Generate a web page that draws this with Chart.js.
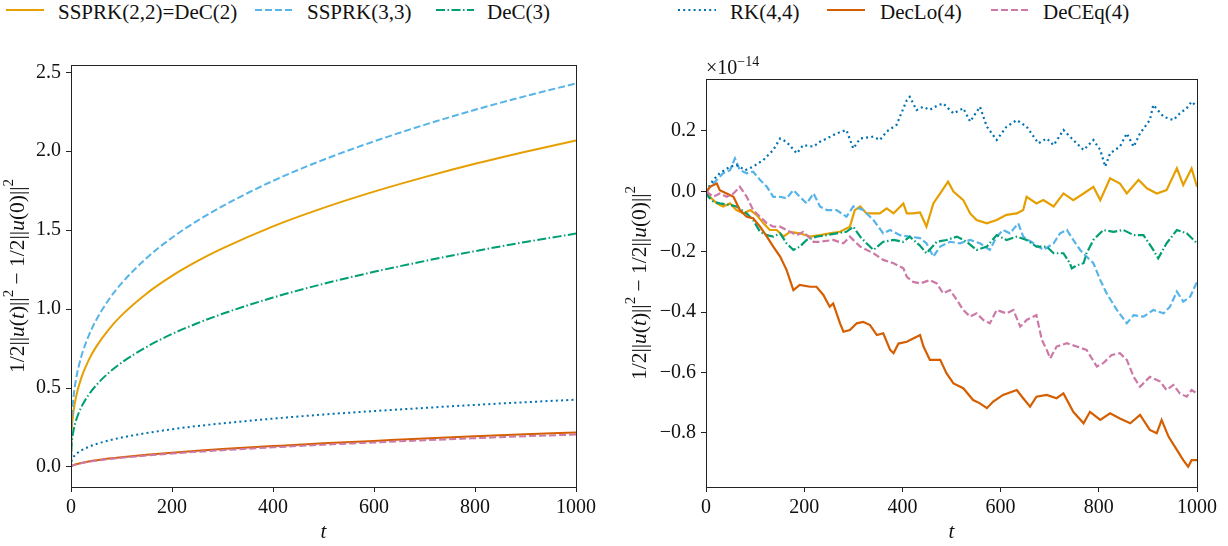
<!DOCTYPE html>
<html lang="en">
<head>
<meta charset="UTF-8">
<title>Energy error of the schemes</title>
<script src="https://cdn.jsdelivr.net/npm/chart.js@4.4.0/dist/chart.umd.min.js"></script>
<style>
  body { margin: 0; width: 1228px; height: 546px; background: #fff; overflow: hidden; position: relative; font-family: 'Liberation Serif', serif; }
  .item { position: absolute; top: 0; height: 24px; }
  .item svg { position: absolute; left: 0; top: 4px; }
  .item span { position: absolute; top: 0; white-space: nowrap; font-size: 21px; line-height: 24px; color: #111; }
  .box { position: absolute; top: 40px; height: 506px; }
</style>
</head>
<body>
<div id="legend"></div>
<div class="box" style="left:0; width:600px;"><canvas id="left" width="600" height="506"></canvas></div>
<div class="box" style="left:620px; width:608px;"><canvas id="right" width="608" height="506"></canvas></div>

<script>
// series names and styles
const names = ['SSPRK(2,2)=DeC(2)', 'SSPRK(3,3)', 'DeC(3)', 'RK(4,4)', 'DecLo(4)', 'DeCEq(4)'];
const colors = ['#E69F00', '#56B4E9', '#009E73', '#0072B2', '#D55E00', '#CC79A7'];
const dashes = [[], [7, 3], [9, 2.5, 1.5, 2.5], [2, 3.2], [], [7, 3]];

// left panel: energy growth
const tLeft = [0, 1, 2, 5, 10, 20, 35, 50, 75, 100, 150, 200, 250, 300, 400, 500, 600, 700, 800, 900, 1000];
const ssprk22 = [0, 0.207, 0.261, 0.354, 0.445, 0.561, 0.677, 0.762, 0.872, 0.960, 1.099, 1.210, 1.303, 1.384, 1.524, 1.641, 1.744, 1.836, 1.920, 1.997, 2.068];
const ssprk33 = [0, 0.266, 0.332, 0.446, 0.556, 0.695, 0.831, 0.931, 1.061, 1.163, 1.324, 1.452, 1.559, 1.652, 1.812, 1.946, 2.062, 2.167, 2.262, 2.349, 2.429];
const dec3 = [0, 0.132, 0.168, 0.231, 0.295, 0.376, 0.457, 0.518, 0.597, 0.660, 0.761, 0.842, 0.910, 0.970, 1.073, 1.160, 1.236, 1.304, 1.367, 1.425, 1.478];
const rk44 = [0, 0.035, 0.045, 0.063, 0.081, 0.104, 0.127, 0.145, 0.168, 0.186, 0.215, 0.239, 0.259, 0.276, 0.306, 0.332, 0.354, 0.374, 0.393, 0.410, 0.426];
const declo4 = [0, 0.005, 0.007, 0.012, 0.017, 0.025, 0.035, 0.042, 0.053, 0.062, 0.077, 0.090, 0.102, 0.113, 0.132, 0.150, 0.165, 0.180, 0.194, 0.207, 0.219];
const deceq4 = [0, 0.005, 0.007, 0.011, 0.016, 0.023, 0.033, 0.040, 0.050, 0.058, 0.072, 0.085, 0.096, 0.106, 0.124, 0.141, 0.155, 0.169, 0.182, 0.195, 0.205];

// right panel: values in units of 1e-14
const tR1 = [0, 8, 22, 35, 49, 62, 76, 90, 103, 117, 130, 144, 158, 171, 191, 212, 232, 252, 273, 293, 303, 314, 327, 341, 354, 368, 382, 402, 409, 422, 436, 449, 463, 477, 493, 504, 524, 538, 551, 572, 592, 612, 633, 646, 653, 673, 687, 708, 728, 748, 769, 789, 803, 823, 843, 857, 881, 898, 918, 938, 959, 972, 989, 1000];
const vR1 = [0, -0.018, -0.04, -0.05, -0.04, -0.062, -0.073, -0.062, -0.078, -0.106, -0.128, -0.128, -0.15, -0.134, -0.139, -0.15, -0.145, -0.139, -0.134, -0.117, -0.062, -0.05, -0.073, -0.073, -0.073, -0.056, -0.073, -0.04, -0.073, -0.073, -0.07, -0.117, -0.04, -0.007, 0.032, -0.001, -0.029, -0.073, -0.095, -0.106, -0.095, -0.078, -0.073, -0.062, -0.018, -0.04, -0.029, -0.05, -0.007, -0.029, -0.007, 0.015, -0.029, 0.043, 0.026, -0.007, 0.038, 0.01, -0.007, 0.004, 0.076, 0.021, 0.076, 0.015];
const tR2 = [0, 15, 35, 49, 59, 69, 83, 96, 110, 124, 137, 151, 164, 178, 191, 205, 219, 232, 246, 266, 286, 300, 320, 341, 361, 375, 395, 415, 436, 449, 463, 477, 497, 517, 538, 558, 578, 592, 605, 619, 636, 646, 667, 687, 708, 721, 735, 748, 762, 775, 789, 803, 816, 837, 857, 871, 891, 911, 932, 945, 959, 972, 986, 1000];
const vR2 = [0, 0.026, 0.06, 0.07, 0.109, 0.07, 0.06, 0.065, 0.038, 0.015, -0.018, -0.018, -0.023, 0.004, -0.018, -0.04, -0.007, -0.05, -0.062, -0.062, -0.084, -0.05, -0.062, -0.095, -0.139, -0.128, -0.145, -0.15, -0.155, -0.172, -0.216, -0.183, -0.167, -0.172, -0.161, -0.172, -0.194, -0.15, -0.128, -0.139, -0.106, -0.15, -0.172, -0.194, -0.172, -0.139, -0.128, -0.161, -0.194, -0.216, -0.238, -0.294, -0.338, -0.393, -0.437, -0.41, -0.415, -0.393, -0.404, -0.382, -0.332, -0.365, -0.349, -0.3];
const tR3 = [0, 5, 15, 28, 49, 62, 83, 96, 110, 124, 137, 151, 164, 178, 191, 205, 225, 246, 266, 286, 300, 314, 327, 341, 361, 382, 402, 415, 436, 449, 470, 490, 511, 531, 551, 572, 592, 612, 633, 653, 673, 694, 708, 728, 741, 745, 755, 769, 775, 789, 809, 830, 850, 871, 891, 911, 921, 938, 959, 979, 1000];
const vR3 = [0, -0.018, -0.034, -0.04, -0.045, -0.05, -0.073, -0.095, -0.134, -0.145, -0.15, -0.139, -0.172, -0.194, -0.183, -0.161, -0.15, -0.145, -0.139, -0.134, -0.117, -0.15, -0.172, -0.194, -0.167, -0.161, -0.167, -0.15, -0.18, -0.205, -0.167, -0.161, -0.15, -0.167, -0.194, -0.183, -0.145, -0.161, -0.15, -0.161, -0.183, -0.183, -0.205, -0.205, -0.238, -0.255, -0.245, -0.238, -0.205, -0.161, -0.128, -0.134, -0.128, -0.145, -0.145, -0.194, -0.222, -0.172, -0.128, -0.139, -0.172];
const tR4 = [0, 15, 28, 49, 62, 80, 96, 117, 137, 151, 164, 185, 198, 219, 232, 246, 266, 286, 300, 314, 341, 354, 368, 388, 409, 415, 429, 442, 456, 470, 483, 504, 524, 538, 558, 572, 592, 612, 633, 653, 677, 694, 708, 728, 748, 769, 789, 803, 813, 823, 843, 857, 871, 884, 904, 911, 932, 952, 965, 979, 989, 1000];
const vR4 = [0, 0.038, 0.06, 0.082, 0.087, 0.07, 0.082, 0.104, 0.137, 0.175, 0.164, 0.126, 0.153, 0.148, 0.164, 0.175, 0.192, 0.203, 0.142, 0.175, 0.181, 0.17, 0.198, 0.22, 0.302, 0.313, 0.269, 0.28, 0.27, 0.283, 0.291, 0.258, 0.275, 0.231, 0.28, 0.214, 0.17, 0.214, 0.236, 0.214, 0.159, 0.175, 0.153, 0.203, 0.17, 0.137, 0.17, 0.137, 0.082, 0.126, 0.148, 0.192, 0.148, 0.192, 0.236, 0.286, 0.247, 0.236, 0.258, 0.275, 0.297, 0.28];
const tR5 = [0, 8, 22, 28, 42, 56, 69, 83, 96, 110, 124, 137, 151, 164, 178, 191, 212, 225, 239, 252, 259, 273, 280, 293, 307, 320, 334, 348, 361, 375, 382, 392, 409, 422, 436, 443, 456, 477, 490, 504, 524, 544, 558, 572, 585, 605, 633, 646, 660, 673, 694, 714, 728, 748, 769, 782, 803, 823, 843, 864, 884, 904, 918, 928, 942, 959, 972, 982, 989, 1000];
const vR5 = [-0.007, 0.015, 0.026, 0.004, -0.007, -0.018, -0.062, -0.084, -0.089, -0.117, -0.15, -0.183, -0.216, -0.26, -0.327, -0.31, -0.316, -0.316, -0.343, -0.382, -0.371, -0.437, -0.465, -0.459, -0.437, -0.432, -0.443, -0.476, -0.47, -0.525, -0.536, -0.504, -0.498, -0.487, -0.476, -0.514, -0.558, -0.558, -0.603, -0.636, -0.652, -0.691, -0.702, -0.718, -0.696, -0.674, -0.658, -0.685, -0.713, -0.68, -0.674, -0.685, -0.669, -0.73, -0.768, -0.73, -0.757, -0.735, -0.752, -0.768, -0.74, -0.79, -0.801, -0.757, -0.812, -0.856, -0.89, -0.912, -0.89, -0.89];
const tR6 = [0, 15, 28, 42, 56, 69, 83, 96, 110, 124, 137, 151, 164, 185, 198, 219, 232, 259, 280, 293, 314, 341, 361, 382, 402, 409, 422, 436, 456, 470, 483, 497, 511, 524, 538, 551, 565, 578, 592, 612, 626, 640, 653, 673, 684, 694, 701, 714, 735, 755, 775, 796, 809, 826, 843, 857, 871, 884, 904, 925, 938, 952, 965, 979, 989, 1000];
const vR6 = [0, -0.018, -0.007, -0.018, -0.007, 0.015, -0.018, -0.062, -0.084, -0.106, -0.117, -0.117, -0.128, -0.145, -0.134, -0.167, -0.167, -0.161, -0.172, -0.15, -0.183, -0.205, -0.227, -0.238, -0.255, -0.283, -0.3, -0.305, -0.294, -0.305, -0.338, -0.327, -0.36, -0.393, -0.415, -0.404, -0.426, -0.437, -0.393, -0.404, -0.393, -0.448, -0.426, -0.41, -0.492, -0.525, -0.553, -0.514, -0.503, -0.514, -0.525, -0.58, -0.569, -0.542, -0.536, -0.558, -0.614, -0.647, -0.614, -0.63, -0.658, -0.641, -0.669, -0.68, -0.658, -0.669];

// ticks
const xTicks = [0, 200, 400, 600, 800, 1000];
const leftYTicks = [0, 0.5, 1, 1.5, 2, 2.5];
const rightYTicks = [-0.8, -0.6, -0.4, -0.2, 0, 0.2];

const FONT = "'Liberation Serif', serif";

// html legend
const legendX = [[6, 58], [255, 307], [436, 487], [678, 730], [827, 880], [991, 1043]];
const legend = document.getElementById('legend');
names.forEach((n, i) => {
  const d = document.createElement('div');
  d.className = 'item';
  d.style.left = legendX[i][0] + 'px';
  const da = dashes[i].length ? ` stroke-dasharray="${dashes[i].join(',')}"` : '';
  d.innerHTML = `<svg width="40" height="12"><line x1="0" y1="6" x2="38" y2="6" stroke="${colors[i]}" stroke-width="2"${da}/></svg>` +
    `<span style="left:${legendX[i][1] - legendX[i][0]}px">${n}</span>`;
  legend.appendChild(d);
});

// text with italic / superscript pieces
function drawPieces(ctx, pieces, x, y, size, align) {
  const w = pieces.map(p => {
    ctx.font = (p[1] === 'i' ? 'italic ' : '') + (p[1] === 's' ? size * 0.7 : size) + 'px ' + FONT;
    return ctx.measureText(p[0]).width;
  });
  const total = w.reduce((a, b) => a + b, 0);
  let cx = align === 'center' ? x - total / 2 : x;
  pieces.forEach((p, k) => {
    ctx.font = (p[1] === 'i' ? 'italic ' : '') + (p[1] === 's' ? size * 0.7 : size) + 'px ' + FONT;
    ctx.fillText(p[0], cx, p[1] === 's' ? y - size * 0.4 : y);
    cx += w[k];
  });
}

const yLabel = [['1/2||', 'n'], ['u', 'i'], ['(', 'n'], ['t', 'i'], [')||', 'n'], ['2', 's'], [' \u2212 1/2||', 'n'], ['u', 'i'], ['(0)||', 'n'], ['2', 's']];

const frame = {
  id: 'frame',
  afterDraw(chart, args, opts) {
    const { ctx, chartArea: a } = chart;
    ctx.save();
    ctx.strokeStyle = '#222';
    ctx.lineWidth = 1;
    ctx.strokeRect(a.left + 0.5, a.top + 0.5, a.right - a.left, a.bottom - a.top);
    ctx.fillStyle = '#111';
    ctx.textBaseline = 'middle';
    // x label
    drawPieces(ctx, [['t', 'i']], (a.left + a.right) / 2, 492, 21, 'center');
    // y label
    ctx.translate(opts.ylx, (a.top + a.bottom) / 2);
    ctx.rotate(-Math.PI / 2);
    drawPieces(ctx, yLabel, 0, 0, 21.5, 'center');
    ctx.restore();
    if (opts.offset) {
      ctx.save();
      ctx.fillStyle = '#111';
      ctx.textBaseline = 'alphabetic';
      drawPieces(ctx, [['\u00d710', 'n'], ['\u221214', 's']], a.left, a.top - 5, 20, 'left');
      ctx.restore();
    }
  }
};

function fmt(v) {
  const s = Math.abs(v) < 1e-9 ? '0.0' : v.toFixed(1);
  return s.replace('-', '\u2212');
}

function makeChart(id, datasets, yMin, yMax, yTicks, yWidth, pad, ylx, offset) {
  return new Chart(document.getElementById(id), {
    type: 'line',
    data: { datasets },
    options: {
      responsive: false,
      animation: false,
      devicePixelRatio: 1,
      layout: { padding: pad },
      plugins: { legend: { display: false }, tooltip: { enabled: false }, frame: { ylx, offset } },
      elements: { point: { radius: 0 } },
      scales: {
        x: {
          type: 'linear', min: 0, max: 1000,
          afterBuildTicks: s => { s.ticks = xTicks.map(v => ({ value: v })); },
          afterFit: s => { s.height = 59; },
          grid: { drawOnChartArea: false, tickLength: 5, color: '#222' },
          border: { color: '#222' },
          ticks: { padding: 4, color: '#111', font: { family: FONT, size: 20 }, maxRotation: 0, callback: v => String(v) }
        },
        y: {
          type: 'linear', min: yMin, max: yMax,
          afterBuildTicks: s => { s.ticks = yTicks.map(v => ({ value: v })); },
          afterFit: s => { s.width = yWidth; },
          grid: { drawOnChartArea: false, tickLength: 5, color: '#222' },
          border: { color: '#222' },
          ticks: { padding: 5, color: '#111', font: { family: FONT, size: 20 }, callback: v => fmt(v) }
        }
      }
    },
    plugins: [frame]
  });
}

function ds(i, ts, vs, smooth) {
  return {
    label: names[i],
    data: ts.map((t, k) => ({ x: t, y: vs[k] })),
    borderColor: colors[i],
    borderWidth: smooth ? 2 : 2.2,
    borderDash: dashes[i],
    fill: false,
    order: 5 - i,
    cubicInterpolationMode: smooth ? 'monotone' : 'default',
    tension: 0
  };
}

const leftSeries = [ssprk22, ssprk33, dec3, rk44, declo4, deceq4];
makeChart('left', leftSeries.map((v, i) => ds(i, tLeft, v, true)),
  -0.127, 2.546, leftYTicks, 71, { left: 0, top: 25, right: 24, bottom: 0 }, 18, false);

const rightT = [tR1, tR2, tR3, tR4, tR5, tR6];
const rightV = [vR1, vR2, vR3, vR4, vR5, vR6];
makeChart('right', rightV.map((v, i) => ds(i, rightT[i], v, false)),
  -0.979, 0.372, rightYTicks, 86, { left: 0, top: 39, right: 31, bottom: 0 }, 20, true);
</script>
</body>
</html>
